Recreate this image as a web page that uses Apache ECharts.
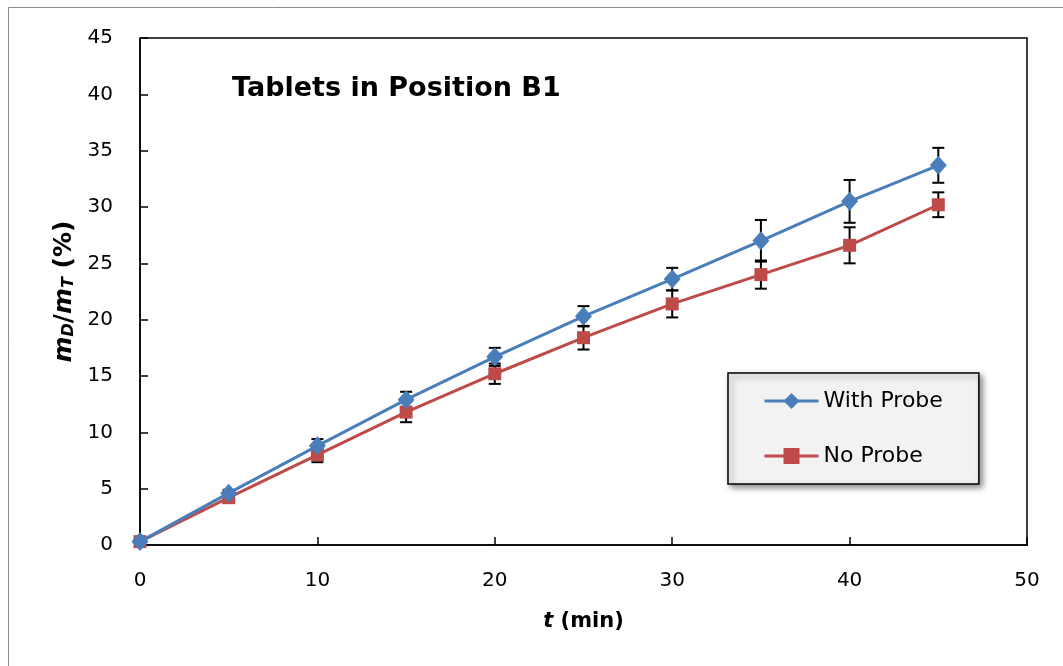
<!DOCTYPE html>
<html><head><meta charset="utf-8">
<script src="https://cdn.jsdelivr.net/npm/echarts@6/dist/echarts.min.js"></script>
<style>html,body{margin:0;padding:0;background:#fff}#c{width:1063px;height:666px}</style>
</head><body><div id="c"></div>
<script>
var times = [0, 5, 10, 15, 20, 25, 30, 35, 40, 45];
var withProbe = [0.3, 4.6, 8.8, 12.9, 16.7, 20.3, 23.6, 27.0, 30.5, 33.7];
var withErr = [0.1, 0.3, 0.6, 0.7, 0.8, 0.9, 1.0, 1.85, 1.9, 1.55];
var noProbe = [0.3, 4.2, 8.0, 11.8, 15.2, 18.4, 21.4, 24.0, 26.6, 30.2];
var noErr = [0.1, 0.3, 0.65, 0.9, 0.9, 1.05, 1.2, 1.25, 1.6, 1.1];

var FONT = '"DejaVu Sans", sans-serif';
function pairs(v){ return times.map(function(t,i){ return [t, v[i]]; }); }
function errData(v,e){ return times.map(function(t,i){ return [t, v[i]-e[i], v[i]+e[i]]; }); }
function errRender(params, api){
  var x = api.value(0), lo = api.value(1), hi = api.value(2);
  var pLo = api.coord([x, lo]), pHi = api.coord([x, hi]);
  var w = 6;
  var st = {stroke:'#000', lineWidth:2};
  return {type:'group', children:[
    {type:'line', shape:{x1:pLo[0], y1:pLo[1], x2:pHi[0], y2:pHi[1]}, style:st},
    {type:'line', shape:{x1:pLo[0]-w, y1:pLo[1], x2:pLo[0]+w, y2:pLo[1]}, style:st},
    {type:'line', shape:{x1:pHi[0]-w, y1:pHi[1], x2:pHi[0]+w, y2:pHi[1]}, style:st}
  ]};
}
var chart = echarts.init(document.getElementById('c'));
chart.setOption({
  animation:false,
  backgroundColor:'#fff',
  graphic:[
    {type:'rect', shape:{x:8.5, y:7.5, width:1200, height:800}, style:{fill:'none', stroke:'#8c8c8c', lineWidth:1}, z:-10},
    {type:'text', left:232, top:75, style:{text:'Tablets in Position B1', font:'bold 27px ' + FONT, fill:'#000'}}
  ],
  grid:{left:140, right:36, top:38, bottom:121, show:true, borderColor:'#000', borderWidth:1.5, backgroundColor:'transparent'},
  legend:{
    left:728, top:373,
    orient:'vertical',
    padding:[17,36,17,35],
    itemGap:33,
    itemWidth:54, itemHeight:20,
    backgroundColor:'#f2f2f2', borderColor:'#000', borderWidth:1.5,
    shadowBlur:6, shadowColor:'rgba(0,0,0,0.45)', shadowOffsetX:3, shadowOffsetY:3,
    lineStyle:{width:3},
    textStyle:{fontFamily:FONT, fontSize:22, color:'#000'},
    data:['With Probe','No Probe']
  },
  xAxis:{
    type:'value', min:0, max:50, interval:10,
    name:'{i|t} (min)', nameLocation:'middle', nameGap:66,
    nameTextStyle:{fontFamily:FONT, fontSize:21, fontWeight:'bold', color:'#000',
      rich:{i:{fontFamily:FONT, fontSize:21, fontWeight:'bold', fontStyle:'italic', color:'#000'}}},
    axisLine:{lineStyle:{color:'#000', width:1.5}},
    axisTick:{inside:true, length:8, lineStyle:{color:'#000', width:1.5}},
    axisLabel:{fontFamily:FONT, fontSize:20, color:'#000', margin:26},
    splitLine:{show:false}
  },
  yAxis:{
    type:'value', min:0, max:45, interval:5,
    name:'{i|m}{s|D}{b|/}{i|m}{s|T}{b| (%)}', nameLocation:'middle', nameGap:62, nameRotate:90,
    nameTextStyle:{fontFamily:FONT, fontSize:25, fontWeight:'bold', color:'#000',
      rich:{
        i:{fontFamily:FONT, fontSize:25, fontWeight:'bold', fontStyle:'italic', color:'#000', verticalAlign:'bottom', lineHeight:32},
        s:{fontFamily:FONT, fontSize:16, fontWeight:'bold', fontStyle:'italic', color:'#000', verticalAlign:'bottom', lineHeight:22},
        b:{fontFamily:FONT, fontSize:25, fontWeight:'bold', color:'#000', verticalAlign:'bottom', lineHeight:32}
      }},
    axisLine:{show:true, lineStyle:{color:'#000', width:1.5}},
    axisTick:{show:true, inside:true, length:8, lineStyle:{color:'#000', width:1.5}},
    axisLabel:{fontFamily:FONT, fontSize:20, color:'#000', margin:27},
    splitLine:{show:false}
  },
  series:[
    {type:'custom', name:'errW', renderItem:errRender, data:errData(withProbe, withErr), z:1, silent:true},
    {type:'custom', name:'errN', renderItem:errRender, data:errData(noProbe, noErr), z:1, silent:true},
    {type:'line', name:'No Probe', data:pairs(noProbe), symbol:'rect', symbolSize:13,
      lineStyle:{color:'#be4b48', width:3}, itemStyle:{color:'#be4b48'}, color:'#be4b48', z:3},
    {type:'line', name:'With Probe', data:pairs(withProbe), symbol:'diamond', symbolSize:[17,19],
      lineStyle:{color:'#4a7ebb', width:3}, itemStyle:{color:'#4a7ebb'}, color:'#4a7ebb', z:4}
  ]
});
</script></body></html>
